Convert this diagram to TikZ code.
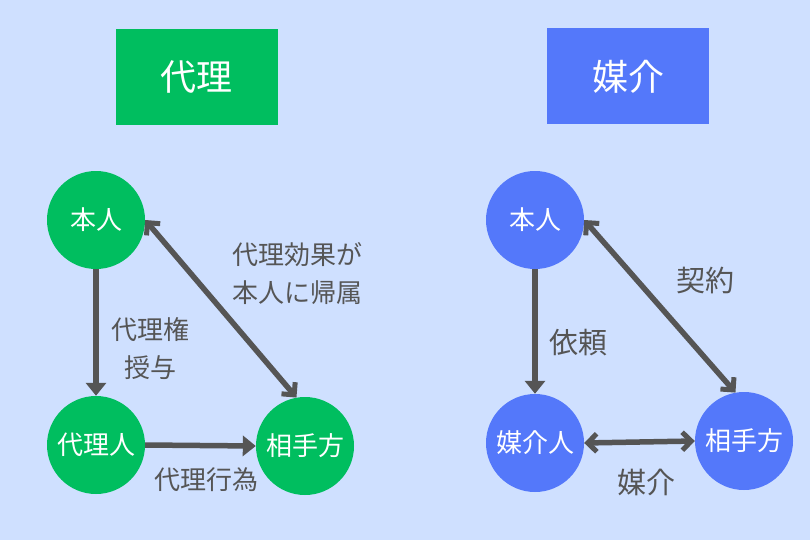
\documentclass[tikz,border=0pt]{standalone}
\usepackage{fontspec}
\newfontfamily\jp{Noto Sans CJK JP}
\usetikzlibrary{arrows.meta}
\definecolor{bg}{RGB}{207,224,255}
\definecolor{gr}{RGB}{0,190,95}
\definecolor{bl}{RGB}{84,120,250}
\definecolor{ln}{RGB}{85,85,85}
\tikzset{
  x=1pt,y=-1pt,
  circ/.style={circle,minimum size=98pt,inner sep=0pt,text=white,font=\jp\fontsize{26}{30}\selectfont},
  title/.style={minimum width=162pt,minimum height=96pt,inner sep=0pt,text=white,font=\jp\fontsize{36}{40}\selectfont},
  lbl/.style={text=ln,font=\jp\fontsize{26}{38}\selectfont,align=center},
  biglbl/.style={lbl,font=\jp\fontsize{29}{38}\selectfont},
  conn/.style={draw=ln,line width=5.5pt},
  solid head/.style={conn,-{Triangle[length=13pt,width=20pt]}},
  barb2/.style={conn,{Straight Barb[length=9pt,width=18pt,line width=5pt]}-{Straight Barb[length=9pt,width=18pt,line width=5pt]}},
}
\begin{document}
\begin{tikzpicture}
\useasboundingbox (0,0) rectangle (810,540);
\fill[bg] (0,0) rectangle (810,540);
% left
\node[title,fill=gr] (t1) at (196.5,77.5) {代理};
\node[circ,fill=gr] (h1) at (96,220) {本人};
\node[circ,fill=gr] (d1) at (96,445) {代理人};
\node[circ,fill=gr] (a1) at (305,446) {相手方};
\draw[solid head] (h1.south) -- (d1.north);
\draw[solid head] (d1.east) -- (a1.west);
\draw[barb2] (h1.east) -- (a1.100);
\node[lbl] (l1) at (150,349) {代理権\\授与};
\node[lbl] (l2) at (297,274) {代理効果が\\本人に帰属};
\node[lbl] (l3) at (206,480) {代理行為};
% right
\node[title,fill=bl] (t2) at (628,76.5) {媒介};
\node[circ,fill=bl] (h2) at (535,220) {本人};
\node[circ,fill=bl] (b2) at (535,443) {媒介人};
\node[circ,fill=bl] (a2) at (744,441) {相手方};
\draw[solid head] (h2.south) -- (b2.north);
\draw[barb2] (b2.east) -- (a2.west);
\draw[barb2] (h2.east) -- (a2.100);
\node[biglbl] (r1) at (705,280) {契約};
\node[biglbl] (r2) at (578,343) {依頼};
\node[biglbl] (r3) at (646,482) {媒介};
\end{tikzpicture}
\end{document}
